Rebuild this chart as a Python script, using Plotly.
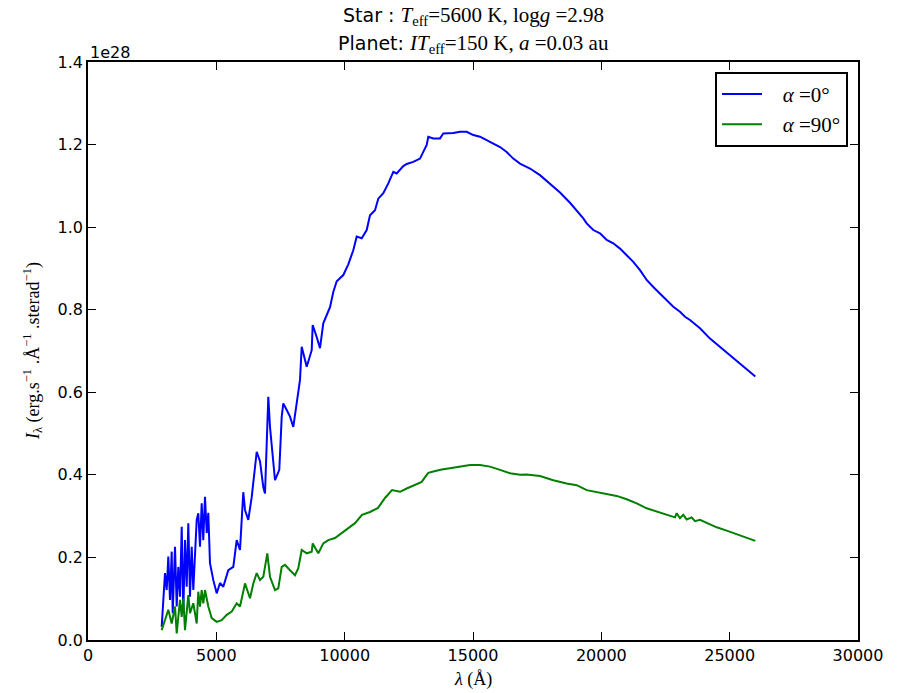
import plotly.graph_objects as go

# Wavelength (Angstrom) and intensity (units of 1e28 erg/s/A/sterad)
wl_0 = [2871, 3000, 3066, 3129, 3195, 3261, 3300, 3390, 3456, 3518, 3584, 3651, 3713, 3779, 3845,
        3908, 3974, 4040, 4103, 4235, 4297, 4364, 4430, 4492, 4558, 4625, 4687, 4753, 4882, 5014,
        5143, 5271, 5466, 5661, 5793, 5922, 6050, 6117, 6245, 6378, 6573, 6701, 6830, 6896, 7025,
        7091, 7286, 7453, 7547, 7609, 7742, 7870, 7999, 8131, 8260, 8326, 8521, 8716, 8754, 8910,
        9039, 9167, 9429, 9557, 9690, 9947, 10141, 10336, 10469, 10664, 10858, 10987, 11182, 11310,
        11505, 11700, 11832, 11895, 12027, 12284, 12417, 12674, 12935, 13064, 13196, 13258, 13453,
        13714, 13843, 14232, 14494, 14754, 15012, 15273, 15534, 15791, 16052, 16313, 16570, 16831,
        17221, 17610, 18000, 18390, 18779, 19040, 19297, 19430, 19687, 19948, 20209, 20466, 20727,
        20988, 21245, 21506, 21767, 22025, 22286, 22547, 22804, 23065, 23260, 23454, 23844, 24234,
        24623, 25013, 25403, 25792, 26000]
flux_0 = [0.032, 0.162, 0.121, 0.202, 0.097, 0.214, 0.065, 0.226, 0.081, 0.177, 0.105, 0.274, 0.065, 0.242, 0.129,
          0.283, 0.105, 0.226, 0.121, 0.291, 0.307, 0.226, 0.331, 0.242, 0.347, 0.259, 0.308, 0.186, 0.145, 0.113,
          0.138, 0.129, 0.169, 0.177, 0.242, 0.218, 0.358, 0.315, 0.291, 0.346, 0.456, 0.433, 0.370, 0.355, 0.589,
          0.516, 0.387, 0.412, 0.541, 0.573, 0.557, 0.541, 0.516, 0.571, 0.630, 0.710, 0.662, 0.702, 0.763, 0.734,
          0.707, 0.767, 0.806, 0.843, 0.869, 0.884, 0.910, 0.944, 0.977, 0.973, 0.993, 1.029, 1.041, 1.069,
          1.082, 1.106, 1.123, 1.134, 1.130, 1.148, 1.153, 1.158, 1.166, 1.182, 1.199, 1.219, 1.215,
          1.215, 1.227, 1.228, 1.231, 1.231, 1.223, 1.219, 1.211, 1.204, 1.194, 1.182, 1.166, 1.154,
          1.142, 1.126, 1.106, 1.084, 1.059, 1.041, 1.021, 1.009, 0.993, 0.985, 0.969, 0.961, 0.948,
          0.932, 0.916, 0.896, 0.872, 0.855, 0.839, 0.823, 0.807, 0.795, 0.783, 0.775, 0.755, 0.730,
          0.710, 0.690, 0.670, 0.650, 0.638]

wl_90 = [2871, 3000, 3129, 3261, 3390, 3456, 3584, 3651, 3713, 3779, 3908, 3974, 4103, 4235, 4297,
         4364, 4430, 4492, 4558, 4687, 4819, 5014, 5209, 5404, 5599, 5793, 5922, 6117, 6312, 6440,
         6573, 6701, 6830, 6986, 7091, 7286, 7414, 7547, 7675, 7870, 8065, 8194, 8326, 8521, 8716,
         8754, 8973, 9167, 9362, 9623, 10013, 10403, 10675, 10987, 11299, 11571, 11844, 12156, 12417,
         12740, 13001, 13196, 13258, 13453, 13780, 14104, 14494, 14883, 15273, 15662, 16052, 16442,
         16831, 17092, 17610, 18128, 18650, 19040, 19430, 19819, 20209, 20598, 20988, 21378, 21767,
         22157, 22547, 22870, 22936, 23065, 23193, 23326, 23520, 23649, 23844, 24105, 24494, 24884,
         25273, 25663, 26000]
flux_90 = [0.024, 0.048, 0.073, 0.040, 0.081, 0.016, 0.097, 0.056, 0.101, 0.024, 0.109, 0.065, 0.089, 0.040, 0.117,
           0.081, 0.121, 0.089, 0.121, 0.081, 0.053, 0.044, 0.048, 0.061, 0.069, 0.089, 0.081, 0.137, 0.101, 0.137,
           0.162, 0.145, 0.153, 0.210, 0.153, 0.121, 0.125, 0.177, 0.182, 0.169, 0.157, 0.174, 0.218, 0.210, 0.214,
           0.234, 0.210, 0.234, 0.242, 0.247, 0.266, 0.283, 0.303, 0.310, 0.320, 0.344, 0.363, 0.359, 0.367,
           0.375, 0.383, 0.400, 0.405, 0.408, 0.413, 0.416, 0.420, 0.424, 0.424, 0.420, 0.412, 0.404,
           0.400, 0.401, 0.397, 0.387, 0.379, 0.375, 0.363, 0.358, 0.353, 0.349, 0.341, 0.331, 0.319,
           0.311, 0.303, 0.297, 0.307, 0.295, 0.303, 0.292, 0.297, 0.288, 0.291, 0.283, 0.273, 0.265,
           0.256, 0.248, 0.240]

x_ticks = [0, 5000, 10000, 15000, 20000, 25000, 30000]
y_ticks = [0.0, 0.2, 0.4, 0.6, 0.8, 1.0, 1.2, 1.4]
y_tick_labels = ["0.0", "0.2", "0.4", "0.6", "0.8", "1.0", "1.2", "1.4"]

SERIF = "Liberation Serif"
SANS = "DejaVu Sans"

def serif(t, size=None):
    s = f"font-family:'{SERIF}'"
    if size:
        s += f";font-size:{size}px"
    return f"<span style=\"{s}\">{t}</span>"

fig = go.Figure()
fig.add_trace(go.Scatter(x=wl_0, y=flux_0, mode="lines",
                         line=dict(color="#0000ff", width=2),
                         name="&nbsp;&nbsp;&nbsp;" + serif("<i>α</i> =0°")))
fig.add_trace(go.Scatter(x=wl_90, y=flux_90, mode="lines",
                         line=dict(color="#008000", width=2),
                         name="&nbsp;&nbsp;&nbsp;" + serif("<i>α</i> =90°")))

axis_common = dict(showgrid=False, zeroline=False, showline=True, linecolor="black",
                   linewidth=1.5, mirror="ticks", ticks="inside", ticklen=8, tickwidth=1,
                   tickcolor="black", tickfont=dict(family=SANS, size=16, color="black"))

fig.update_xaxes(range=[0, 30000], tickvals=x_ticks, ticktext=[str(v) for v in x_ticks], **axis_common)
fig.update_yaxes(range=[0, 1.4], tickvals=y_ticks, ticktext=y_tick_labels, **axis_common)

fig.update_layout(
    width=897, height=693,
    margin=dict(l=88, r=39, t=62, b=53),
    paper_bgcolor="white", plot_bgcolor="white",
    showlegend=True,
    legend=dict(x=0.987, y=0.983, xanchor="right", yanchor="top",
                bordercolor="black", borderwidth=2, bgcolor="white",
                font=dict(family=SERIF, size=21, color="black"),
                itemwidth=40, tracegroupgap=6),
    annotations=[
        dict(xref="paper", yref="paper", x=0.5, y=1.079, xanchor="center", yanchor="middle",
             showarrow=False, font=dict(family=SANS, size=19, color="black"),
             text="Star : " + serif("<i>T</i><sub>eff</sub>=5600 K, log<i>g</i> =2.98", 21)),
        dict(xref="paper", yref="paper", x=0.5, y=1.031, xanchor="center", yanchor="middle",
             showarrow=False, font=dict(family=SANS, size=19, color="black"),
             text="Planet: " + serif("<i>IT</i><sub>eff</sub>=150 K, <i>a</i> =0.03 au", 21)),
        dict(xref="paper", yref="paper", x=0.0, y=1.017, xanchor="left", yanchor="middle",
             showarrow=False, font=dict(family=SANS, size=16, color="black"), text="1e28"),
        dict(xref="paper", yref="paper", x=0.5, y=-0.069, xanchor="center", yanchor="middle",
             showarrow=False, font=dict(family=SERIF, size=18, color="black"), text="<i>λ</i> (Å)"),
        dict(xref="paper", yref="paper", x=-0.0727, y=0.5, xanchor="center", yanchor="middle",
             textangle=-90, showarrow=False, font=dict(family=SERIF, size=18, color="black"),
             text="<i>I</i><sub>λ</sub> (erg.s<sup>−1</sup> .Å<sup>−1</sup> .sterad<sup>−1</sup>)"),
    ],
)

fig.write_html("out.html")
